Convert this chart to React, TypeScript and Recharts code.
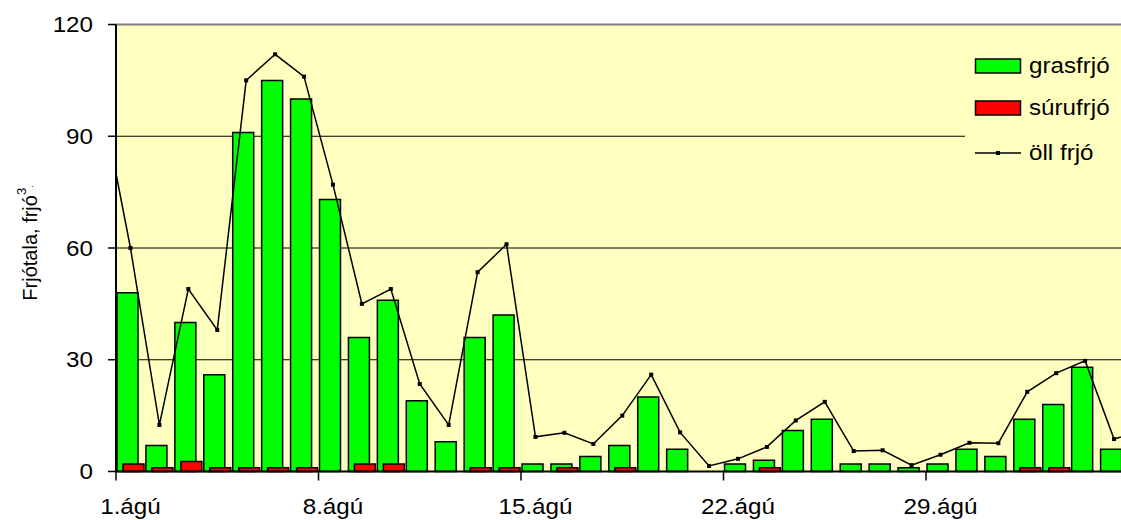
import React from 'react';
import {
  ComposedChart,
  Bar,
  Line,
  XAxis,
  YAxis,
  CartesianGrid,
  ReferenceLine,
  Legend,
} from 'recharts';

// ---------- data ----------
// day number in the month (0 = the last day of the previous month, partly cut off)
const days = [
  0, 1, 2, 3, 4, 5, 6, 7, 8, 9, 10, 11, 12, 13, 14, 15, 16, 17, 18,
  19, 20, 21, 22, 23, 24, 25, 26, 27, 28, 29, 30, 31, 32, 33, 34, 35, 36,
];
const grasfrjo = [
  null, 48, 7, 40, 26, 91, 105, 100, 73, 36, 46, 19, 8, 36, 42, 2, 2, 4, 7,
  20, 6, null, 2, 3, 11, 14, 2, 2, 1, 2, 6, 4, 14, 18, 28, 6, null,
];
const surufrjo = [
  null, 2, 1, 2.7, 1, 1, 1, 1, null, 2, 2, null, null, 1, 1, null, 1, null, 1,
  null, null, null, null, 1, null, null, null, null, null, null, null, null, 1, 1, null, null, null,
];
const ollFrjo = [
  100, 60, 12.5, 49, 38, 105, 112, 106, 77, 45, 49, 23.5, 12.5, 53.5, 61, 9.3, 10.4, 7.4, 15,
  26, 10.5, 1.5, 3.4, 6.6, 13.7, 18.7, 5.5, 5.7, 1.7, 4.5, 7.7, 7.6, 21.4, 26.4, 29.7, 8.7, 11,
];
const xTickDays = [1, 8, 15, 22, 29];
const xTickLabels = ['1.ágú', '8.ágú', '15.ágú', '22.ágú', '29.ágú'];
const yTicks = [0, 30, 60, 90, 120];
const gridValues = [30, 60, 90];
const seriesNames = ['grasfrjó', 'súrufrjó', 'öll frjó'];
const yLabelMain = 'Frjótala, frjó';
const yLabelSup = '3';

const data = days.map((d, i) => ({
  day: d,
  gras: grasfrjo[i],
  suru: surufrjo[i],
  oll: ollFrjo[i],
}));

// ---------- layout / style ----------
const CHART_W = 1121;
const CHART_H = 520;
const PLOT_LEFT = 116;
const PLOT_TOP = 24.5;
const PLOT_BOTTOM = 471.5;
const X_MIN = 0.5;
const X_MAX = 35.24;
const PX_PER_DAY = (CHART_W - PLOT_LEFT) / (X_MAX - X_MIN);
const BG = '#FFFFC0';
const FONT = '"Liberation Sans", Arial, sans-serif';
const FS = 22;
const STRETCH = 1.1;
const GREEN = '#00FF00';
const RED = '#FF0000';
const colors = [GREEN, RED, '#000000'];

const XTick = (props: any) => {
  const { x, payload } = props;
  const i = xTickDays.indexOf(payload.value);
  const bx = x - PX_PER_DAY / 2;
  return (
    <g>
      <line x1={bx} x2={bx} y1={PLOT_BOTTOM} y2={PLOT_BOTTOM + 9} stroke="#000" strokeWidth={1.5} />
      <text
        transform={`translate(${x} ${PLOT_BOTTOM + 42.5}) scale(${STRETCH} 1)`}
        x={0}
        y={0}
        textAnchor="middle"
        fontFamily={FONT}
        fontSize={FS}
        fill="#000"
      >
        {xTickLabels[i]}
      </text>
    </g>
  );
};

const YTick = (props: any) => {
  const { y, payload } = props;
  const ex = PLOT_LEFT - 8 - 15;
  return (
    <g>
      <line x1={PLOT_LEFT - 8} x2={PLOT_LEFT} y1={y} y2={y} stroke="#000" strokeWidth={1.5} />
      <text
        transform={`translate(${ex} ${y}) scale(${STRETCH} 1)`}
        x={0}
        y={0}
        textAnchor="end"
        dominantBaseline="central"
        fontFamily={FONT}
        fontSize={FS}
        fill="#000"
      >
        {payload.value}
      </text>
    </g>
  );
};

const YLabel = () => (
  <text
    x={30}
    y={243}
    transform="rotate(-90 30 243)"
    textAnchor="middle"
    dominantBaseline="central"
    fontFamily={FONT}
    fontSize={20}
    fill="#000"
  >
    {yLabelMain}
    <tspan dy={-9} fontSize={13}>{yLabelSup}</tspan>
    <tspan dy={9} fontSize={9}>.</tspan>
  </text>
);

const Dot = (props: any) => {
  const { cx, cy, index } = props;
  if (cx == null || cy == null) return <g key={`d${index}`} />;
  return <rect key={`d${index}`} x={cx - 2} y={cy - 2} width={4} height={4} fill="#000" />;
};

const LEGEND_TOP = 40;
const LEGEND_LEFT = 965;
const legendRowCenters = [65.5, 108, 152.5];

const LegendContent = () => (
  <div
    style={{
      width: CHART_W - LEGEND_LEFT,
      height: 145,
      background: BG,
      position: 'relative',
      fontFamily: FONT,
      fontSize: FS,
      color: '#000',
    }}
  >
    {seriesNames.map((name, i) => (
      <div
        key={name}
        style={{
          position: 'absolute',
          left: 9,
          top: legendRowCenters[i] - LEGEND_TOP - 15,
          height: 30,
          display: 'flex',
          alignItems: 'center',
          whiteSpace: 'nowrap',
        }}
      >
        <svg width={48} height={30} style={{ display: 'block' }}>
          {i < 2 ? (
            <rect x={1.5} y={8} width={45} height={14} fill={colors[i]} stroke="#000" strokeWidth={1.5} />
          ) : (
            <g>
              <line x1={1} x2={47} y1={15} y2={15} stroke="#000" strokeWidth={1.5} />
              <rect x={22} y={13} width={4} height={4} fill="#000" />
            </g>
          )}
        </svg>
        <span
          style={{
            marginLeft: 7,
            lineHeight: '30px',
            display: 'inline-block',
            transform: `scaleX(${STRETCH})`,
            transformOrigin: 'left center',
          }}
        >
          {name}
        </span>
      </div>
    ))}
  </div>
);

export default function App() {
  return (
    <div style={{ position: 'absolute', left: 0, top: 0, width: CHART_W, height: CHART_H, background: '#fff' }}>
      <ComposedChart
        width={CHART_W}
        height={CHART_H}
        data={data}
        margin={{ top: PLOT_TOP, right: 0, left: 0, bottom: CHART_H - PLOT_BOTTOM - 48 }}
        barGap={-15}
      >
        <CartesianGrid
          horizontal
          vertical={false}
          fill={BG}
          fillOpacity={1}
          stroke="#000"
          strokeWidth={1}
          horizontalValues={gridValues}
        />
        <XAxis
          dataKey="day"
          type="number"
          domain={[X_MIN, X_MAX]}
          allowDataOverflow
          ticks={xTickDays}
          interval={0}
          height={48}
          axisLine={{ stroke: '#000', strokeWidth: 2 }}
          tickLine={false}
          tick={<XTick />}
        />
        <YAxis
          type="number"
          domain={[0, 120]}
          ticks={yTicks}
          interval={0}
          width={PLOT_LEFT}
          axisLine={{ stroke: '#000', strokeWidth: 2 }}
          tickLine={false}
          tick={<YTick />}
          label={<YLabel />}
        />
        <ReferenceLine y={120} stroke="#808080" strokeWidth={2} />
        <Bar
          dataKey="gras"
          name={seriesNames[0]}
          fill={GREEN}
          stroke="#000"
          strokeWidth={1.5}
          barSize={21}
          isAnimationActive={false}
        />
        <Bar
          dataKey="suru"
          name={seriesNames[1]}
          fill={RED}
          stroke="#000"
          strokeWidth={1.5}
          barSize={21}
          isAnimationActive={false}
        />
        <Line
          dataKey="oll"
          name={seriesNames[2]}
          type="linear"
          stroke="#000"
          strokeWidth={1.5}
          dot={<Dot />}
          activeDot={false}
          isAnimationActive={false}
        />
        <Legend
          layout="vertical"
          align="center"
          verticalAlign="middle"
          wrapperStyle={{ left: LEGEND_LEFT, top: LEGEND_TOP, width: CHART_W - LEGEND_LEFT, height: 145 }}
          content={<LegendContent />}
        />
      </ComposedChart>
    </div>
  );
}
